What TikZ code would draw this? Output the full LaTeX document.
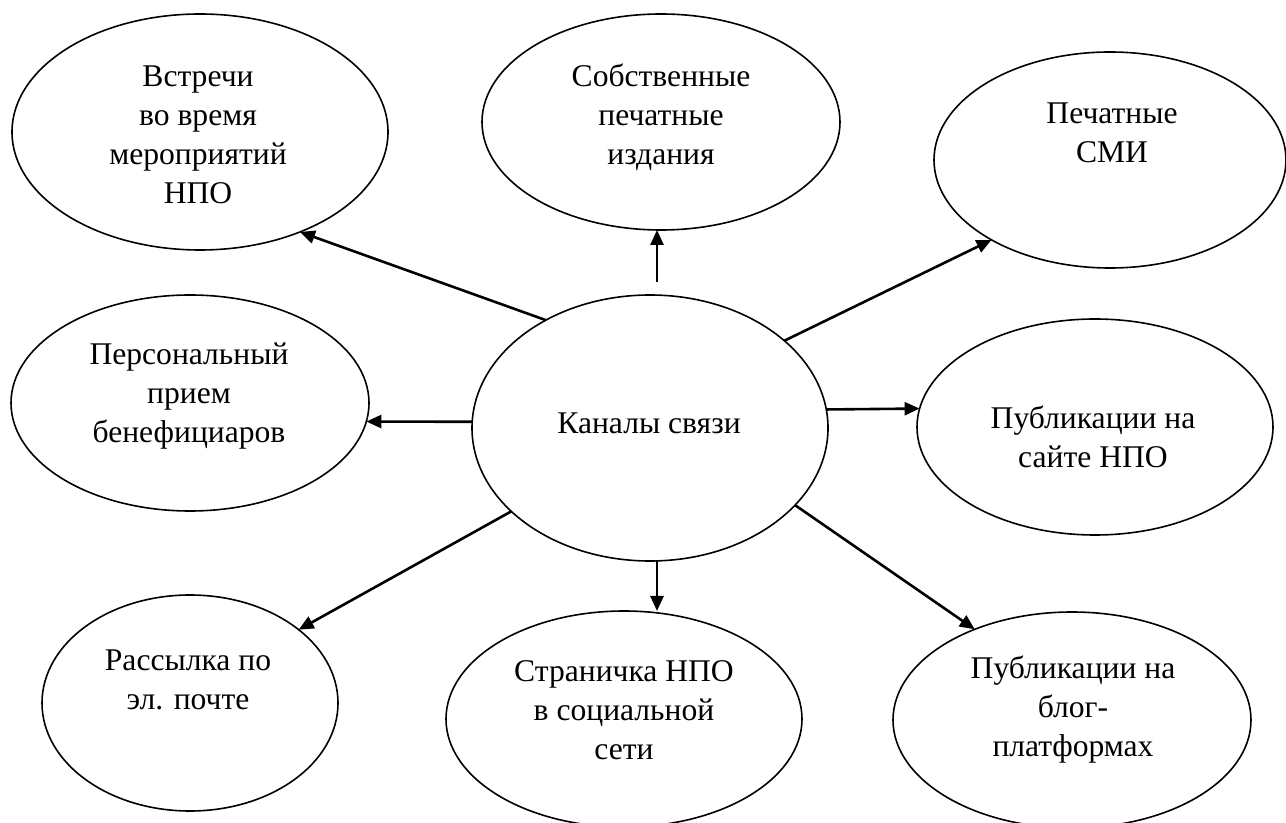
\documentclass[tikz,border=0pt]{standalone}
\usepackage{fontspec}
\setmainfont{Liberation Serif}
\newfontfamily\rmcyr[Script=Cyrillic]{Liberation Serif}
\usetikzlibrary{shapes.geometric,arrows.meta}

\begin{document}
\begin{tikzpicture}[x=.5pt, y=-.5pt,
		channel/.style={draw, ellipse, line width=.8pt, inner sep=0pt, outer sep=0pt},
		caption/.style={align=center, inner sep=0pt, font=\rmcyr\fontsize{15.8}{19.5}\selectfont},
		link/.style={line width=1.3pt, -{Triangle[length=7.5pt,width=6.5pt]}}]
				\useasboundingbox (0,0) rectangle (1286,823);
				\node[channel, minimum width=188pt, minimum height=118pt] (meet) at (200,132) {};
				\node[channel, minimum width=179pt, minimum height=108pt] (print) at (661,122) {};
				\node[channel, minimum width=176pt, minimum height=108pt] (smi) at (1110,160) {};
				\node[channel, minimum width=179pt, minimum height=108pt] (personal) at (190,403) {};
				\node[channel, minimum width=178pt, minimum height=133pt] (ctr) at (650,428) {};
				\node[channel, minimum width=178pt, minimum height=108pt] (site) at (1095,427) {};
				\node[channel, minimum width=148pt, minimum height=108pt] (mail) at (190,703) {};
				\node[channel, minimum width=178pt, minimum height=108pt] (social) at (624,719) {};
				\node[channel, minimum width=179pt, minimum height=108pt] (blog) at (1072,720) {};
				% texts
				\node[caption] (meet-t) at (198,135) {Встречи\\во время\\мероприятий\\НПО};
				\node[caption] (print-t) at (661,117) {Собственные\\печатные\\издания};
				\node[caption] (smi-t) at (1112,133) {Печатные\\СМИ};
				\node[caption] (personal-t) at (189,396) {Персональный\\прием\\бенефициаров};
				\node[caption] (ctr-t) at (649,423) {Каналы связи};
				\node[caption] (site-t) at (1093,437) {Публикации на\\сайте НПО};
				\node[caption] (mail-t) at (188,680) {Рассылка по\\эл. почте};
				\node[caption] (social-t) at (624,710) {Страничка НПО\\в социальной\\сети};
				\node[caption] (blog-t) at (1073,710) {Публикации на\\блог-\\платформах};
				% arrows
				\draw[link] (ctr.134) -- (meet.-45);
				\draw[link] ([xshift=3.5pt, yshift=6.5pt]ctr.north) -- ([xshift=3.5pt]ctr.north |- print.south);
				\draw[link] (ctr.33) -- (smi.214.6);
				\draw[link] (ctr.6) -- (site.174);
				\draw[link] (ctr.-28) -- (blog.137);
				\draw[link] ([xshift=3.5pt]ctr.south) -- ([xshift=3.5pt]ctr.south |- social.north);
				\draw[link] (ctr.211) -- (mail.34);
				\draw[link] (ctr.178) -- (personal.-6);
\end{tikzpicture}
\end{document}
